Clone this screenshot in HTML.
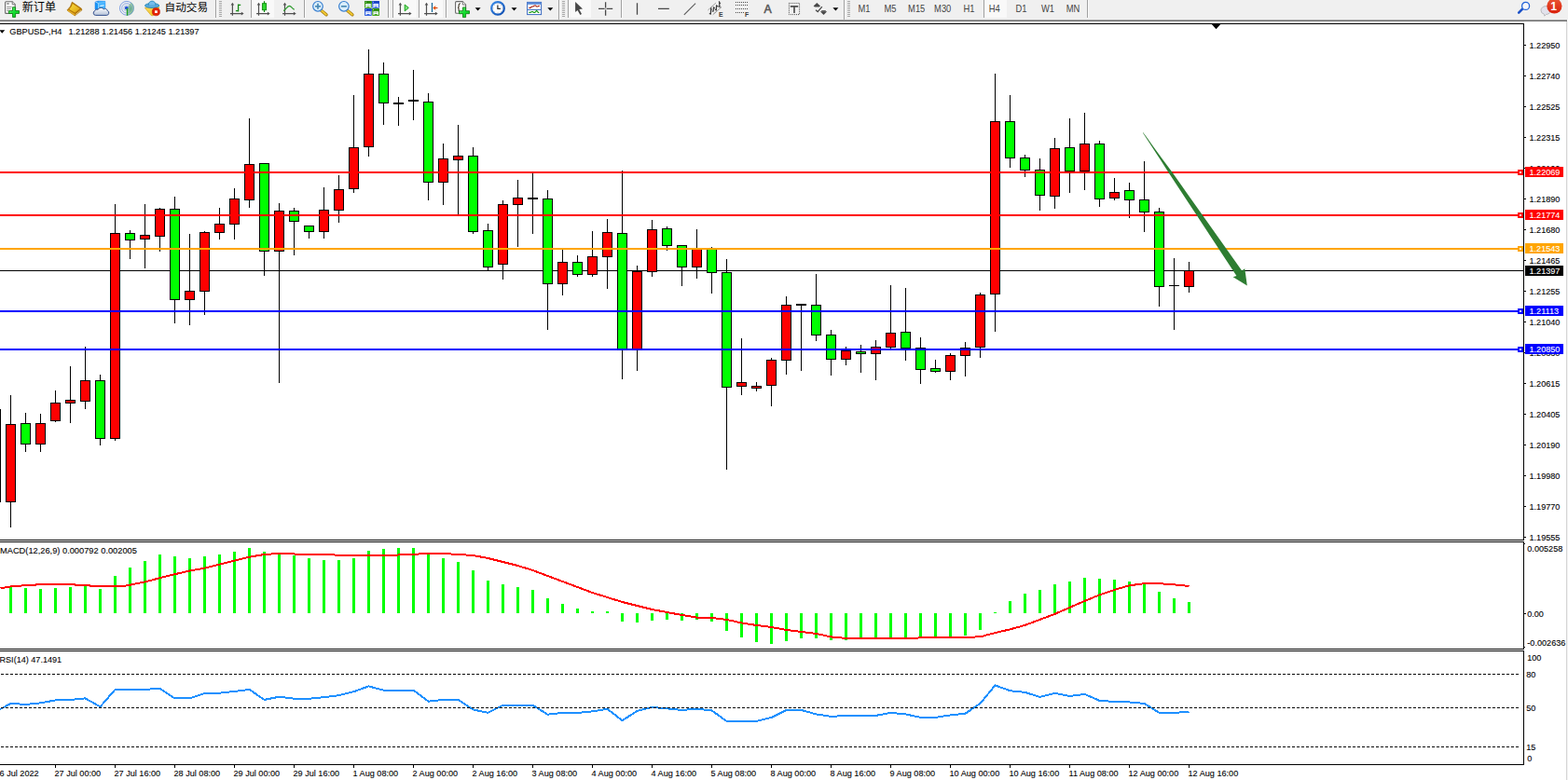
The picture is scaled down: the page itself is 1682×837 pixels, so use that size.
<!DOCTYPE html><html><head><meta charset="utf-8"><title>GBPUSD-,H4</title>
<style>html,body{margin:0;padding:0;background:#fff;overflow:hidden}body{width:1682px;height:837px;position:relative;font-family:"Liberation Sans",sans-serif}svg{position:absolute;left:0;top:0;display:block}text{font-family:"Liberation Sans",sans-serif}.ax{font-size:9.7px;fill:#000;stroke:#000;stroke-width:.1px}.tb{font-size:10.4px;fill:#444}.w{fill:#fff;stroke:#fff}.cjk{font-family:"Liberation Sans","Noto Sans CJK SC",sans-serif;fill:#000}</style></head><body>
<svg width="1682" height="837" viewBox="0 0 1682 837">
<rect x="0" y="0" width="1682" height="837" fill="#fff"/>
<g shape-rendering="crispEdges">
<rect x="0" y="0" width="1682" height="21" fill="#f0f0f0"/>
<rect x="0" y="21" width="1681" height="1" fill="#a6a6a6"/>
<rect x="0" y="22" width="1681" height="1" fill="#6c6c6c"/>
<rect x="0" y="23" width="1682" height="2" fill="#fff"/>
<rect x="1680" y="23" width="1" height="814" fill="#d4d4d4"/>
<rect x="1681" y="23" width="1" height="814" fill="#f4f4f4"/>
<rect x="0" y="25" width="1635" height="1" fill="#000"/>
<rect x="1634" y="25" width="1" height="796" fill="#000"/>
<rect x="0" y="579" width="1635" height="1" fill="#000"/>
<rect x="0" y="581" width="1635" height="1" fill="#000"/>
<rect x="0" y="696" width="1635" height="1" fill="#000"/>
<rect x="0" y="698" width="1635" height="1" fill="#000"/>
<rect x="0" y="820" width="1635" height="1" fill="#000"/>
<rect x="1634" y="580" width="1" height="1" fill="#fff"/><rect x="1634" y="697" width="1" height="1" fill="#fff"/>
</g>
<g shape-rendering="crispEdges">
<rect x="0" y="290" width="1634" height="1" fill="#000"/>
<rect x="0" y="439" width="1" height="100" fill="#000"/>
<rect x="11" y="424" width="1" height="142" fill="#000"/>
<rect x="6" y="455" width="11" height="84" fill="#000"/>
<rect x="7" y="456" width="9" height="82" fill="#ff0000"/>
<rect x="27" y="443" width="1" height="42" fill="#000"/>
<rect x="22" y="454" width="11" height="23" fill="#000"/>
<rect x="23" y="455" width="9" height="21" fill="#00ff00"/>
<rect x="43" y="444" width="1" height="41" fill="#000"/>
<rect x="38" y="454" width="11" height="23" fill="#000"/>
<rect x="39" y="455" width="9" height="21" fill="#ff0000"/>
<rect x="59" y="419" width="1" height="34" fill="#000"/>
<rect x="54" y="432" width="11" height="20" fill="#000"/>
<rect x="55" y="433" width="9" height="18" fill="#ff0000"/>
<rect x="75" y="393" width="1" height="61" fill="#000"/>
<rect x="70" y="429" width="11" height="4" fill="#000"/>
<rect x="71" y="430" width="9" height="2" fill="#ff0000"/>
<rect x="91" y="372" width="1" height="67" fill="#000"/>
<rect x="86" y="408" width="11" height="23" fill="#000"/>
<rect x="87" y="409" width="9" height="21" fill="#ff0000"/>
<rect x="107" y="402" width="1" height="76" fill="#000"/>
<rect x="102" y="408" width="11" height="63" fill="#000"/>
<rect x="103" y="409" width="9" height="61" fill="#00ff00"/>
<rect x="123" y="219" width="1" height="254" fill="#000"/>
<rect x="118" y="250" width="11" height="221" fill="#000"/>
<rect x="119" y="251" width="9" height="219" fill="#ff0000"/>
<rect x="139" y="247" width="1" height="31" fill="#000"/>
<rect x="134" y="250" width="11" height="8" fill="#000"/>
<rect x="135" y="251" width="9" height="6" fill="#00ff00"/>
<rect x="155" y="219" width="1" height="69" fill="#000"/>
<rect x="150" y="252" width="11" height="5" fill="#000"/>
<rect x="151" y="253" width="9" height="3" fill="#ff0000"/>
<rect x="171" y="223" width="1" height="47" fill="#000"/>
<rect x="166" y="224" width="11" height="30" fill="#000"/>
<rect x="167" y="225" width="9" height="28" fill="#ff0000"/>
<rect x="187" y="211" width="1" height="136" fill="#000"/>
<rect x="182" y="224" width="11" height="98" fill="#000"/>
<rect x="183" y="225" width="9" height="96" fill="#00ff00"/>
<rect x="203" y="251" width="1" height="98" fill="#000"/>
<rect x="198" y="312" width="11" height="10" fill="#000"/>
<rect x="199" y="313" width="9" height="8" fill="#ff0000"/>
<rect x="219" y="248" width="1" height="90" fill="#000"/>
<rect x="214" y="249" width="11" height="64" fill="#000"/>
<rect x="215" y="250" width="9" height="62" fill="#ff0000"/>
<rect x="235" y="223" width="1" height="34" fill="#000"/>
<rect x="230" y="240" width="11" height="10" fill="#000"/>
<rect x="231" y="241" width="9" height="8" fill="#ff0000"/>
<rect x="251" y="202" width="1" height="55" fill="#000"/>
<rect x="246" y="213" width="11" height="28" fill="#000"/>
<rect x="247" y="214" width="9" height="26" fill="#ff0000"/>
<rect x="267" y="127" width="1" height="96" fill="#000"/>
<rect x="262" y="176" width="11" height="39" fill="#000"/>
<rect x="263" y="177" width="9" height="37" fill="#ff0000"/>
<rect x="283" y="175" width="1" height="121" fill="#000"/>
<rect x="278" y="175" width="11" height="95" fill="#000"/>
<rect x="279" y="176" width="9" height="93" fill="#00ff00"/>
<rect x="299" y="218" width="1" height="193" fill="#000"/>
<rect x="294" y="226" width="11" height="44" fill="#000"/>
<rect x="295" y="227" width="9" height="42" fill="#ff0000"/>
<rect x="315" y="223" width="1" height="51" fill="#000"/>
<rect x="310" y="226" width="11" height="12" fill="#000"/>
<rect x="311" y="227" width="9" height="10" fill="#00ff00"/>
<rect x="331" y="242" width="1" height="14" fill="#000"/>
<rect x="326" y="242" width="11" height="7" fill="#000"/>
<rect x="327" y="243" width="9" height="5" fill="#00ff00"/>
<rect x="347" y="201" width="1" height="55" fill="#000"/>
<rect x="342" y="225" width="11" height="24" fill="#000"/>
<rect x="343" y="226" width="9" height="22" fill="#ff0000"/>
<rect x="363" y="188" width="1" height="51" fill="#000"/>
<rect x="358" y="203" width="11" height="23" fill="#000"/>
<rect x="359" y="204" width="9" height="21" fill="#ff0000"/>
<rect x="379" y="102" width="1" height="105" fill="#000"/>
<rect x="374" y="158" width="11" height="45" fill="#000"/>
<rect x="375" y="159" width="9" height="43" fill="#ff0000"/>
<rect x="395" y="53" width="1" height="115" fill="#000"/>
<rect x="390" y="79" width="11" height="79" fill="#000"/>
<rect x="391" y="80" width="9" height="77" fill="#ff0000"/>
<rect x="411" y="67" width="1" height="67" fill="#000"/>
<rect x="406" y="79" width="11" height="32" fill="#000"/>
<rect x="407" y="80" width="9" height="30" fill="#00ff00"/>
<rect x="427" y="104" width="1" height="31" fill="#000"/>
<rect x="422" y="110" width="11" height="2" fill="#000"/>
<rect x="443" y="75" width="1" height="54" fill="#000"/>
<rect x="438" y="107" width="11" height="2" fill="#000"/>
<rect x="459" y="100" width="1" height="115" fill="#000"/>
<rect x="454" y="109" width="11" height="87" fill="#000"/>
<rect x="455" y="110" width="9" height="85" fill="#00ff00"/>
<rect x="475" y="154" width="1" height="66" fill="#000"/>
<rect x="470" y="170" width="11" height="26" fill="#000"/>
<rect x="471" y="171" width="9" height="24" fill="#ff0000"/>
<rect x="491" y="134" width="1" height="96" fill="#000"/>
<rect x="486" y="167" width="11" height="5" fill="#000"/>
<rect x="487" y="168" width="9" height="3" fill="#ff0000"/>
<rect x="507" y="158" width="1" height="93" fill="#000"/>
<rect x="502" y="167" width="11" height="82" fill="#000"/>
<rect x="503" y="168" width="9" height="80" fill="#00ff00"/>
<rect x="523" y="240" width="1" height="50" fill="#000"/>
<rect x="518" y="247" width="11" height="40" fill="#000"/>
<rect x="519" y="248" width="9" height="38" fill="#00ff00"/>
<rect x="539" y="215" width="1" height="85" fill="#000"/>
<rect x="534" y="219" width="11" height="65" fill="#000"/>
<rect x="535" y="220" width="9" height="63" fill="#ff0000"/>
<rect x="555" y="193" width="1" height="72" fill="#000"/>
<rect x="550" y="212" width="11" height="8" fill="#000"/>
<rect x="551" y="213" width="9" height="6" fill="#ff0000"/>
<rect x="571" y="186" width="1" height="65" fill="#000"/>
<rect x="566" y="212" width="11" height="2" fill="#000"/>
<rect x="587" y="204" width="1" height="150" fill="#000"/>
<rect x="582" y="213" width="11" height="92" fill="#000"/>
<rect x="583" y="214" width="9" height="90" fill="#00ff00"/>
<rect x="603" y="268" width="1" height="49" fill="#000"/>
<rect x="598" y="281" width="11" height="24" fill="#000"/>
<rect x="599" y="282" width="9" height="22" fill="#ff0000"/>
<rect x="619" y="274" width="1" height="23" fill="#000"/>
<rect x="614" y="281" width="11" height="14" fill="#000"/>
<rect x="615" y="282" width="9" height="12" fill="#00ff00"/>
<rect x="635" y="248" width="1" height="49" fill="#000"/>
<rect x="630" y="275" width="11" height="20" fill="#000"/>
<rect x="631" y="276" width="9" height="18" fill="#ff0000"/>
<rect x="651" y="235" width="1" height="75" fill="#000"/>
<rect x="646" y="249" width="11" height="27" fill="#000"/>
<rect x="647" y="250" width="9" height="25" fill="#ff0000"/>
<rect x="667" y="183" width="1" height="224" fill="#000"/>
<rect x="662" y="250" width="11" height="125" fill="#000"/>
<rect x="663" y="251" width="9" height="123" fill="#00ff00"/>
<rect x="683" y="285" width="1" height="113" fill="#000"/>
<rect x="678" y="291" width="11" height="84" fill="#000"/>
<rect x="679" y="292" width="9" height="82" fill="#ff0000"/>
<rect x="699" y="236" width="1" height="61" fill="#000"/>
<rect x="694" y="246" width="11" height="46" fill="#000"/>
<rect x="695" y="247" width="9" height="44" fill="#ff0000"/>
<rect x="715" y="243" width="1" height="26" fill="#000"/>
<rect x="710" y="245" width="11" height="19" fill="#000"/>
<rect x="711" y="246" width="9" height="17" fill="#00ff00"/>
<rect x="731" y="264" width="1" height="43" fill="#000"/>
<rect x="726" y="263" width="11" height="24" fill="#000"/>
<rect x="727" y="264" width="9" height="22" fill="#00ff00"/>
<rect x="747" y="246" width="1" height="53" fill="#000"/>
<rect x="742" y="267" width="11" height="20" fill="#000"/>
<rect x="743" y="268" width="9" height="18" fill="#ff0000"/>
<rect x="763" y="265" width="1" height="50" fill="#000"/>
<rect x="758" y="267" width="11" height="26" fill="#000"/>
<rect x="759" y="268" width="9" height="24" fill="#00ff00"/>
<rect x="779" y="278" width="1" height="226" fill="#000"/>
<rect x="774" y="292" width="11" height="124" fill="#000"/>
<rect x="775" y="293" width="9" height="122" fill="#00ff00"/>
<rect x="795" y="363" width="1" height="61" fill="#000"/>
<rect x="790" y="410" width="11" height="5" fill="#000"/>
<rect x="791" y="411" width="9" height="3" fill="#ff0000"/>
<rect x="811" y="410" width="1" height="10" fill="#000"/>
<rect x="806" y="414" width="11" height="3" fill="#000"/>
<rect x="807" y="415" width="9" height="1" fill="#ff0000"/>
<rect x="827" y="384" width="1" height="52" fill="#000"/>
<rect x="822" y="386" width="11" height="28" fill="#000"/>
<rect x="823" y="387" width="9" height="26" fill="#ff0000"/>
<rect x="843" y="318" width="1" height="84" fill="#000"/>
<rect x="838" y="327" width="11" height="60" fill="#000"/>
<rect x="839" y="328" width="9" height="58" fill="#ff0000"/>
<rect x="859" y="326" width="1" height="72" fill="#000"/>
<rect x="854" y="326" width="11" height="2" fill="#000"/>
<rect x="875" y="294" width="1" height="72" fill="#000"/>
<rect x="870" y="327" width="11" height="33" fill="#000"/>
<rect x="871" y="328" width="9" height="31" fill="#00ff00"/>
<rect x="891" y="354" width="1" height="49" fill="#000"/>
<rect x="886" y="359" width="11" height="27" fill="#000"/>
<rect x="887" y="360" width="9" height="25" fill="#00ff00"/>
<rect x="907" y="372" width="1" height="20" fill="#000"/>
<rect x="902" y="376" width="11" height="10" fill="#000"/>
<rect x="903" y="377" width="9" height="8" fill="#ff0000"/>
<rect x="923" y="370" width="1" height="30" fill="#000"/>
<rect x="918" y="377" width="11" height="3" fill="#000"/>
<rect x="919" y="378" width="9" height="1" fill="#00ff00"/>
<rect x="939" y="365" width="1" height="43" fill="#000"/>
<rect x="934" y="372" width="11" height="8" fill="#000"/>
<rect x="935" y="373" width="9" height="6" fill="#ff0000"/>
<rect x="955" y="306" width="1" height="68" fill="#000"/>
<rect x="950" y="357" width="11" height="16" fill="#000"/>
<rect x="951" y="358" width="9" height="14" fill="#ff0000"/>
<rect x="971" y="309" width="1" height="78" fill="#000"/>
<rect x="966" y="356" width="11" height="18" fill="#000"/>
<rect x="967" y="357" width="9" height="16" fill="#00ff00"/>
<rect x="987" y="362" width="1" height="50" fill="#000"/>
<rect x="982" y="373" width="11" height="24" fill="#000"/>
<rect x="983" y="374" width="9" height="22" fill="#00ff00"/>
<rect x="1003" y="386" width="1" height="14" fill="#000"/>
<rect x="998" y="395" width="11" height="4" fill="#000"/>
<rect x="999" y="396" width="9" height="2" fill="#00ff00"/>
<rect x="1019" y="379" width="1" height="29" fill="#000"/>
<rect x="1014" y="381" width="11" height="18" fill="#000"/>
<rect x="1015" y="382" width="9" height="16" fill="#ff0000"/>
<rect x="1035" y="367" width="1" height="37" fill="#000"/>
<rect x="1030" y="373" width="11" height="9" fill="#000"/>
<rect x="1031" y="374" width="9" height="7" fill="#ff0000"/>
<rect x="1051" y="314" width="1" height="70" fill="#000"/>
<rect x="1046" y="316" width="11" height="57" fill="#000"/>
<rect x="1047" y="317" width="9" height="55" fill="#ff0000"/>
<rect x="1067" y="79" width="1" height="277" fill="#000"/>
<rect x="1062" y="130" width="11" height="186" fill="#000"/>
<rect x="1063" y="131" width="9" height="184" fill="#ff0000"/>
<rect x="1083" y="102" width="1" height="78" fill="#000"/>
<rect x="1078" y="130" width="11" height="40" fill="#000"/>
<rect x="1079" y="131" width="9" height="38" fill="#00ff00"/>
<rect x="1099" y="166" width="1" height="24" fill="#000"/>
<rect x="1094" y="169" width="11" height="14" fill="#000"/>
<rect x="1095" y="170" width="9" height="12" fill="#00ff00"/>
<rect x="1115" y="170" width="1" height="56" fill="#000"/>
<rect x="1110" y="182" width="11" height="28" fill="#000"/>
<rect x="1111" y="183" width="9" height="26" fill="#00ff00"/>
<rect x="1131" y="148" width="1" height="76" fill="#000"/>
<rect x="1126" y="159" width="11" height="52" fill="#000"/>
<rect x="1127" y="160" width="9" height="50" fill="#ff0000"/>
<rect x="1147" y="127" width="1" height="80" fill="#000"/>
<rect x="1142" y="158" width="11" height="26" fill="#000"/>
<rect x="1143" y="159" width="9" height="24" fill="#00ff00"/>
<rect x="1163" y="121" width="1" height="83" fill="#000"/>
<rect x="1158" y="154" width="11" height="30" fill="#000"/>
<rect x="1159" y="155" width="9" height="28" fill="#ff0000"/>
<rect x="1179" y="151" width="1" height="71" fill="#000"/>
<rect x="1174" y="154" width="11" height="60" fill="#000"/>
<rect x="1175" y="155" width="9" height="58" fill="#00ff00"/>
<rect x="1195" y="191" width="1" height="24" fill="#000"/>
<rect x="1190" y="206" width="11" height="7" fill="#000"/>
<rect x="1191" y="207" width="9" height="5" fill="#ff0000"/>
<rect x="1211" y="196" width="1" height="38" fill="#000"/>
<rect x="1206" y="204" width="11" height="11" fill="#000"/>
<rect x="1207" y="205" width="9" height="9" fill="#00ff00"/>
<rect x="1227" y="173" width="1" height="76" fill="#000"/>
<rect x="1222" y="214" width="11" height="14" fill="#000"/>
<rect x="1223" y="215" width="9" height="12" fill="#00ff00"/>
<rect x="1243" y="223" width="1" height="106" fill="#000"/>
<rect x="1238" y="227" width="11" height="81" fill="#000"/>
<rect x="1239" y="228" width="9" height="79" fill="#00ff00"/>
<rect x="1259" y="277" width="1" height="77" fill="#000"/>
<rect x="1254" y="306" width="11" height="1" fill="#000"/>
<rect x="1275" y="281" width="1" height="33" fill="#000"/>
<rect x="1270" y="290" width="11" height="18" fill="#000"/>
<rect x="1271" y="291" width="9" height="16" fill="#ff0000"/>
</g>
<g shape-rendering="crispEdges">
<rect x="0" y="184" width="1629" height="2" fill="#ff0000"/>
<rect x="0" y="230" width="1629" height="2" fill="#ff0000"/>
<rect x="0" y="266" width="1629" height="2" fill="#ffa500"/>
<rect x="0" y="333" width="1629" height="2" fill="#0000ff"/>
<rect x="0" y="374" width="1629" height="2" fill="#0000ff"/>
</g>
<polygon points="1226.3,142.2 1229.7,146.7 1238.2,158.7 1246.8,170.6 1257.2,184.6 1289.7,230.6 1332.2,290.4 1335.3,288.2 1337.8,306.6 1322.7,297.3 1326.4,296.0 1283.4,230.6 1253.1,184.6 1244.2,170.6 1236.5,158.7 1228.7,146.7 1225.8,142.2" fill="#2e7d32"/>
<g shape-rendering="crispEdges">
<rect x="1635" y="48" width="2" height="1" fill="#000"/>
<rect x="1635" y="81" width="2" height="1" fill="#000"/>
<rect x="1635" y="114" width="2" height="1" fill="#000"/>
<rect x="1635" y="147" width="2" height="1" fill="#000"/>
<rect x="1635" y="180" width="2" height="1" fill="#000"/>
<rect x="1635" y="213" width="2" height="1" fill="#000"/>
<rect x="1635" y="246" width="2" height="1" fill="#000"/>
<rect x="1635" y="279" width="2" height="1" fill="#000"/>
<rect x="1635" y="312" width="2" height="1" fill="#000"/>
<rect x="1635" y="345" width="2" height="1" fill="#000"/>
<rect x="1635" y="378" width="2" height="1" fill="#000"/>
<rect x="1635" y="411" width="2" height="1" fill="#000"/>
<rect x="1635" y="444" width="2" height="1" fill="#000"/>
<rect x="1635" y="477" width="2" height="1" fill="#000"/>
<rect x="1635" y="510" width="2" height="1" fill="#000"/>
<rect x="1635" y="543" width="2" height="1" fill="#000"/>
<rect x="1635" y="576" width="2" height="1" fill="#000"/>
</g>
<text class="ax" transform="translate(1640.5,52) scale(0.94,1)" text-anchor="start" xml:space="preserve">1.22950</text>
<text class="ax" transform="translate(1640.5,85) scale(0.94,1)" text-anchor="start" xml:space="preserve">1.22740</text>
<text class="ax" transform="translate(1640.5,118) scale(0.94,1)" text-anchor="start" xml:space="preserve">1.22525</text>
<text class="ax" transform="translate(1640.5,151) scale(0.94,1)" text-anchor="start" xml:space="preserve">1.22315</text>
<text class="ax" transform="translate(1640.5,184) scale(0.94,1)" text-anchor="start" xml:space="preserve">1.22100</text>
<text class="ax" transform="translate(1640.5,217) scale(0.94,1)" text-anchor="start" xml:space="preserve">1.21890</text>
<text class="ax" transform="translate(1640.5,250) scale(0.94,1)" text-anchor="start" xml:space="preserve">1.21680</text>
<text class="ax" transform="translate(1640.5,283) scale(0.94,1)" text-anchor="start" xml:space="preserve">1.21465</text>
<text class="ax" transform="translate(1640.5,316) scale(0.94,1)" text-anchor="start" xml:space="preserve">1.21255</text>
<text class="ax" transform="translate(1640.5,349) scale(0.94,1)" text-anchor="start" xml:space="preserve">1.21040</text>
<text class="ax" transform="translate(1640.5,382) scale(0.94,1)" text-anchor="start" xml:space="preserve">1.20830</text>
<text class="ax" transform="translate(1640.5,415) scale(0.94,1)" text-anchor="start" xml:space="preserve">1.20615</text>
<text class="ax" transform="translate(1640.5,448) scale(0.94,1)" text-anchor="start" xml:space="preserve">1.20405</text>
<text class="ax" transform="translate(1640.5,481) scale(0.94,1)" text-anchor="start" xml:space="preserve">1.20190</text>
<text class="ax" transform="translate(1640.5,514) scale(0.94,1)" text-anchor="start" xml:space="preserve">1.19980</text>
<text class="ax" transform="translate(1640.5,547) scale(0.94,1)" text-anchor="start" xml:space="preserve">1.19770</text>
<text class="ax" transform="translate(1640.5,580) scale(0.94,1)" text-anchor="start" xml:space="preserve">1.19555</text>
<g shape-rendering="crispEdges">
<rect x="1628" y="182" width="6" height="6" fill="#ff0000"/><rect x="1630" y="184" width="2" height="2" fill="#fff"/>
<rect x="1636" y="179" width="41" height="11" fill="#ff0000"/>
<rect x="1628" y="228" width="6" height="6" fill="#ff0000"/><rect x="1630" y="230" width="2" height="2" fill="#fff"/>
<rect x="1636" y="225" width="41" height="11" fill="#ff0000"/>
<rect x="1628" y="264" width="6" height="6" fill="#ffa500"/><rect x="1630" y="266" width="2" height="2" fill="#fff"/>
<rect x="1636" y="261" width="41" height="11" fill="#ffa500"/>
<rect x="1628" y="331" width="6" height="6" fill="#0000ff"/><rect x="1630" y="333" width="2" height="2" fill="#fff"/>
<rect x="1636" y="328" width="41" height="11" fill="#0000ff"/>
<rect x="1628" y="372" width="6" height="6" fill="#0000ff"/><rect x="1630" y="374" width="2" height="2" fill="#fff"/>
<rect x="1636" y="369" width="41" height="11" fill="#0000ff"/>
<rect x="1636" y="285" width="41" height="11" fill="#000"/>
</g>
<text class="ax w" transform="translate(1640.5,188) scale(0.94,1)" text-anchor="start" xml:space="preserve">1.22069</text>
<text class="ax w" transform="translate(1640.5,234) scale(0.94,1)" text-anchor="start" xml:space="preserve">1.21774</text>
<text class="ax w" transform="translate(1640.5,270) scale(0.94,1)" text-anchor="start" xml:space="preserve">1.21543</text>
<text class="ax w" transform="translate(1640.5,337) scale(0.94,1)" text-anchor="start" xml:space="preserve">1.21113</text>
<text class="ax w" transform="translate(1640.5,378) scale(0.94,1)" text-anchor="start" xml:space="preserve">1.20850</text>
<text class="ax w" transform="translate(1640.5,293.8) scale(0.94,1)" text-anchor="start" xml:space="preserve">1.21397</text>
<polygon points="-0.8,32.2 5.3,32.2 2.25,35.7" fill="#000"/>
<text class="ax" transform="translate(10.3,36.7) scale(0.9462,1)" text-anchor="start" xml:space="preserve">GBPUSD-,H4</text>
<text class="ax" transform="translate(73.4,36.7) scale(0.9446,1)" text-anchor="start" xml:space="preserve">1.21288 1.21456 1.21245 1.21397</text>
<polygon points="1299.6,25.8 1309.5,25.8 1304.55,31.2" fill="#000"/>
<g shape-rendering="crispEdges">
<rect x="10" y="630" width="3" height="28" fill="#00ff00"/>
<rect x="26" y="631" width="3" height="27" fill="#00ff00"/>
<rect x="42" y="632" width="3" height="26" fill="#00ff00"/>
<rect x="58" y="631" width="3" height="27" fill="#00ff00"/>
<rect x="74" y="630" width="3" height="28" fill="#00ff00"/>
<rect x="90" y="629" width="3" height="29" fill="#00ff00"/>
<rect x="106" y="632" width="3" height="26" fill="#00ff00"/>
<rect x="122" y="618" width="3" height="40" fill="#00ff00"/>
<rect x="138" y="609" width="3" height="49" fill="#00ff00"/>
<rect x="154" y="602" width="3" height="56" fill="#00ff00"/>
<rect x="170" y="595" width="3" height="63" fill="#00ff00"/>
<rect x="186" y="597" width="3" height="61" fill="#00ff00"/>
<rect x="202" y="599" width="3" height="59" fill="#00ff00"/>
<rect x="218" y="597" width="3" height="61" fill="#00ff00"/>
<rect x="234" y="595" width="3" height="63" fill="#00ff00"/>
<rect x="250" y="592" width="3" height="66" fill="#00ff00"/>
<rect x="266" y="588" width="3" height="70" fill="#00ff00"/>
<rect x="282" y="592" width="3" height="66" fill="#00ff00"/>
<rect x="298" y="593" width="3" height="65" fill="#00ff00"/>
<rect x="314" y="596" width="3" height="62" fill="#00ff00"/>
<rect x="330" y="599" width="3" height="59" fill="#00ff00"/>
<rect x="346" y="601" width="3" height="57" fill="#00ff00"/>
<rect x="362" y="601" width="3" height="57" fill="#00ff00"/>
<rect x="378" y="599" width="3" height="59" fill="#00ff00"/>
<rect x="394" y="591" width="3" height="67" fill="#00ff00"/>
<rect x="410" y="589" width="3" height="69" fill="#00ff00"/>
<rect x="426" y="588" width="3" height="70" fill="#00ff00"/>
<rect x="442" y="588" width="3" height="70" fill="#00ff00"/>
<rect x="458" y="595" width="3" height="63" fill="#00ff00"/>
<rect x="474" y="599" width="3" height="59" fill="#00ff00"/>
<rect x="490" y="603" width="3" height="55" fill="#00ff00"/>
<rect x="506" y="612" width="3" height="46" fill="#00ff00"/>
<rect x="522" y="623" width="3" height="35" fill="#00ff00"/>
<rect x="538" y="627" width="3" height="31" fill="#00ff00"/>
<rect x="554" y="630" width="3" height="28" fill="#00ff00"/>
<rect x="570" y="633" width="3" height="25" fill="#00ff00"/>
<rect x="586" y="642" width="3" height="16" fill="#00ff00"/>
<rect x="602" y="648" width="3" height="10" fill="#00ff00"/>
<rect x="618" y="653" width="3" height="5" fill="#00ff00"/>
<rect x="634" y="656" width="3" height="2" fill="#00ff00"/>
<rect x="650" y="656" width="3" height="2" fill="#00ff00"/>
<rect x="666" y="658" width="3" height="9" fill="#00ff00"/>
<rect x="682" y="658" width="3" height="10" fill="#00ff00"/>
<rect x="698" y="658" width="3" height="8" fill="#00ff00"/>
<rect x="714" y="658" width="3" height="7" fill="#00ff00"/>
<rect x="730" y="658" width="3" height="8" fill="#00ff00"/>
<rect x="746" y="658" width="3" height="7" fill="#00ff00"/>
<rect x="762" y="658" width="3" height="9" fill="#00ff00"/>
<rect x="778" y="658" width="3" height="19" fill="#00ff00"/>
<rect x="794" y="658" width="3" height="26" fill="#00ff00"/>
<rect x="810" y="658" width="3" height="31" fill="#00ff00"/>
<rect x="826" y="658" width="3" height="33" fill="#00ff00"/>
<rect x="842" y="658" width="3" height="30" fill="#00ff00"/>
<rect x="858" y="658" width="3" height="27" fill="#00ff00"/>
<rect x="874" y="658" width="3" height="27" fill="#00ff00"/>
<rect x="890" y="658" width="3" height="29" fill="#00ff00"/>
<rect x="906" y="658" width="3" height="29" fill="#00ff00"/>
<rect x="922" y="658" width="3" height="27" fill="#00ff00"/>
<rect x="938" y="658" width="3" height="27" fill="#00ff00"/>
<rect x="954" y="658" width="3" height="26" fill="#00ff00"/>
<rect x="970" y="658" width="3" height="26" fill="#00ff00"/>
<rect x="986" y="658" width="3" height="26" fill="#00ff00"/>
<rect x="1002" y="658" width="3" height="26" fill="#00ff00"/>
<rect x="1018" y="658" width="3" height="26" fill="#00ff00"/>
<rect x="1034" y="658" width="3" height="24" fill="#00ff00"/>
<rect x="1050" y="658" width="3" height="18" fill="#00ff00"/>
<rect x="1066" y="657" width="3" height="1" fill="#00ff00"/>
<rect x="1082" y="645" width="3" height="13" fill="#00ff00"/>
<rect x="1098" y="637" width="3" height="21" fill="#00ff00"/>
<rect x="1114" y="633" width="3" height="25" fill="#00ff00"/>
<rect x="1130" y="627" width="3" height="31" fill="#00ff00"/>
<rect x="1146" y="624" width="3" height="34" fill="#00ff00"/>
<rect x="1162" y="620" width="3" height="38" fill="#00ff00"/>
<rect x="1178" y="621" width="3" height="37" fill="#00ff00"/>
<rect x="1194" y="622" width="3" height="36" fill="#00ff00"/>
<rect x="1210" y="624" width="3" height="34" fill="#00ff00"/>
<rect x="1226" y="627" width="3" height="31" fill="#00ff00"/>
<rect x="1242" y="635" width="3" height="23" fill="#00ff00"/>
<rect x="1258" y="642" width="3" height="16" fill="#00ff00"/>
<rect x="1274" y="646" width="3" height="12" fill="#00ff00"/>
</g>
<polyline points="0.5,631.4 11.5,629.4 27.5,628.2 43.5,627.2 75.5,627.2 91.5,628.2 107.5,629.2 130.5,629.2 139.5,627.7 155.5,624.4 171.5,620.2 187.5,616.2 203.5,612.5 219.5,609.7 235.5,605.7 251.5,601.7 267.5,597.7 283.5,595.0 299.5,594.0 315.5,594.5 331.5,595.0 347.5,595.0 363.5,595.7 379.5,596.0 395.5,596.0 411.5,596.0 427.5,595.5 460.5,594.0 475.5,594.0 491.5,595.0 507.5,596.0 523.5,599.0 539.5,603.0 555.5,607.0 571.5,612.0 587.5,618.0 603.5,624.0 619.5,630.0 635.5,636.0 651.5,641.0 667.5,646.0 683.5,650.0 699.5,654.0 715.5,657.0 731.5,660.0 747.5,662.6 763.5,662.9 779.5,664.9 795.5,668.4 811.5,671.0 827.5,673.0 843.5,675.9 859.5,677.9 875.5,679.9 891.5,683.4 907.5,685.0 971.5,685.0 987.5,684.4 1019.5,684.0 1051.5,683.4 1067.5,679.0 1083.5,675.4 1099.5,670.9 1115.5,664.9 1131.5,658.9 1147.5,651.9 1163.5,644.9 1179.5,638.4 1195.5,632.9 1211.5,628.3 1227.5,626.2 1243.5,626.2 1259.5,627.4 1275.5,628.9" fill="none" stroke="#ff0000" stroke-width="2" stroke-linejoin="round" shape-rendering="crispEdges"/>
<text class="ax" transform="translate(0,594.2) scale(0.9565511061830293,1)" text-anchor="start" xml:space="preserve">MACD(12,26,9) 0.000792 0.002005</text>
<g shape-rendering="crispEdges"><rect x="1635" y="583" width="1" height="1" fill="#000"/><rect x="1635" y="658" width="2" height="1" fill="#000"/><rect x="1635" y="694" width="1" height="1" fill="#000"/></g>
<text class="ax" transform="translate(1638.3,592) scale(0.94,1)" text-anchor="start" xml:space="preserve">0.005258</text>
<text class="ax" transform="translate(1638.2,662) scale(0.94,1)" text-anchor="start" xml:space="preserve">0.00</text>
<text class="ax" transform="translate(1638.3,693.4) scale(0.94,1)" text-anchor="start" xml:space="preserve">-0.002636</text>
<polyline points="0.0,761.2 11.5,754.9 27.5,755.9 43.5,754.4 59.5,751.4 75.5,750.9 91.5,749.4 107.5,758.4 123.5,739.9 139.5,739.9 155.5,739.9 171.5,738.7 187.5,749.4 203.5,749.4 219.5,743.9 235.5,743.7 251.5,741.9 267.5,739.9 283.5,750.9 299.5,747.7 315.5,749.7 331.5,749.7 347.5,748.2 363.5,746.2 379.5,742.2 395.5,736.4 411.5,740.7 427.5,740.7 443.5,740.7 459.5,752.7 475.5,750.9 491.5,750.9 507.5,761.4 523.5,764.9 539.5,756.7 555.5,756.7 571.5,756.7 587.5,766.7 603.5,764.9 619.5,764.9 635.5,763.4 651.5,760.7 667.5,773.2 683.5,762.9 699.5,758.9 715.5,760.4 731.5,761.9 747.5,760.7 763.5,762.4 779.5,773.9 795.5,773.9 811.5,773.9 827.5,769.9 843.5,761.9 859.5,761.9 875.5,766.4 891.5,768.9 907.5,767.9 923.5,767.9 939.5,767.9 955.5,764.9 971.5,766.4 987.5,769.9 1003.5,769.9 1019.5,767.4 1035.5,765.7 1051.5,754.9 1067.5,735.4 1083.5,741.2 1099.5,742.9 1115.5,747.9 1131.5,743.9 1147.5,746.9 1163.5,744.9 1179.5,751.9 1195.5,752.9 1211.5,753.5 1227.5,754.9 1243.5,764.9 1259.5,764.9 1275.5,763.7" fill="none" stroke="#1e90ff" stroke-width="2" stroke-linejoin="round" shape-rendering="crispEdges"/>
<g shape-rendering="crispEdges" stroke="#000" stroke-width="1" stroke-dasharray="3,2">
<line x1="1" y1="723.5" x2="1631" y2="723.5"/>
<line x1="1" y1="759.5" x2="1631" y2="759.5"/>
<line x1="1" y1="801.5" x2="1631" y2="801.5"/>
</g>
<text class="ax" transform="translate(-0.5,711.2) scale(0.9372071227741332,1)" text-anchor="start" xml:space="preserve">RSI(14) 47.1491</text>
<text class="ax" transform="translate(1638.2,709.2) scale(0.94,1)" text-anchor="start" xml:space="preserve">100</text>
<text class="ax" transform="translate(1637.3,727.2) scale(0.94,1)" text-anchor="start" xml:space="preserve">80</text>
<text class="ax" transform="translate(1637.3,763.3000000000001) scale(0.94,1)" text-anchor="start" xml:space="preserve">50</text>
<text class="ax" transform="translate(1637.3,805.3000000000001) scale(0.94,1)" text-anchor="start" xml:space="preserve">15</text>
<text class="ax" transform="translate(1638.2,817.1) scale(0.94,1)" text-anchor="start" xml:space="preserve">0</text>
<g shape-rendering="crispEdges">
<rect x="59" y="821" width="1" height="3" fill="#000"/>
<rect x="123" y="821" width="1" height="3" fill="#000"/>
<rect x="187" y="821" width="1" height="3" fill="#000"/>
<rect x="251" y="821" width="1" height="3" fill="#000"/>
<rect x="315" y="821" width="1" height="3" fill="#000"/>
<rect x="379" y="821" width="1" height="3" fill="#000"/>
<rect x="443" y="821" width="1" height="3" fill="#000"/>
<rect x="507" y="821" width="1" height="3" fill="#000"/>
<rect x="571" y="821" width="1" height="3" fill="#000"/>
<rect x="635" y="821" width="1" height="3" fill="#000"/>
<rect x="699" y="821" width="1" height="3" fill="#000"/>
<rect x="763" y="821" width="1" height="3" fill="#000"/>
<rect x="827" y="821" width="1" height="3" fill="#000"/>
<rect x="891" y="821" width="1" height="3" fill="#000"/>
<rect x="955" y="821" width="1" height="3" fill="#000"/>
<rect x="1019" y="821" width="1" height="3" fill="#000"/>
<rect x="1083" y="821" width="1" height="3" fill="#000"/>
<rect x="1147" y="821" width="1" height="3" fill="#000"/>
<rect x="1211" y="821" width="1" height="3" fill="#000"/>
<rect x="1275" y="821" width="1" height="3" fill="#000"/>
</g>
<text class="ax" transform="translate(-5.5,833.4) scale(0.94,1)" text-anchor="start" xml:space="preserve">26 Jul 2022</text>
<text class="ax" transform="translate(58.5,833.4) scale(0.94,1)" text-anchor="start" xml:space="preserve">27 Jul 00:00</text>
<text class="ax" transform="translate(122.5,833.4) scale(0.94,1)" text-anchor="start" xml:space="preserve">27 Jul 16:00</text>
<text class="ax" transform="translate(186.5,833.4) scale(0.94,1)" text-anchor="start" xml:space="preserve">28 Jul 08:00</text>
<text class="ax" transform="translate(250.5,833.4) scale(0.94,1)" text-anchor="start" xml:space="preserve">29 Jul 00:00</text>
<text class="ax" transform="translate(314.5,833.4) scale(0.94,1)" text-anchor="start" xml:space="preserve">29 Jul 16:00</text>
<text class="ax" transform="translate(378.5,833.4) scale(0.94,1)" text-anchor="start" xml:space="preserve">1 Aug 08:00</text>
<text class="ax" transform="translate(442.5,833.4) scale(0.94,1)" text-anchor="start" xml:space="preserve">2 Aug 00:00</text>
<text class="ax" transform="translate(506.5,833.4) scale(0.94,1)" text-anchor="start" xml:space="preserve">2 Aug 16:00</text>
<text class="ax" transform="translate(570.5,833.4) scale(0.94,1)" text-anchor="start" xml:space="preserve">3 Aug 08:00</text>
<text class="ax" transform="translate(634.5,833.4) scale(0.94,1)" text-anchor="start" xml:space="preserve">4 Aug 00:00</text>
<text class="ax" transform="translate(698.5,833.4) scale(0.94,1)" text-anchor="start" xml:space="preserve">4 Aug 16:00</text>
<text class="ax" transform="translate(762.5,833.4) scale(0.94,1)" text-anchor="start" xml:space="preserve">5 Aug 08:00</text>
<text class="ax" transform="translate(826.5,833.4) scale(0.94,1)" text-anchor="start" xml:space="preserve">8 Aug 00:00</text>
<text class="ax" transform="translate(890.5,833.4) scale(0.94,1)" text-anchor="start" xml:space="preserve">8 Aug 16:00</text>
<text class="ax" transform="translate(954.5,833.4) scale(0.94,1)" text-anchor="start" xml:space="preserve">9 Aug 08:00</text>
<text class="ax" transform="translate(1018.5,833.4) scale(0.94,1)" text-anchor="start" xml:space="preserve">10 Aug 00:00</text>
<text class="ax" transform="translate(1082.5,833.4) scale(0.94,1)" text-anchor="start" xml:space="preserve">10 Aug 16:00</text>
<text class="ax" transform="translate(1146.5,833.4) scale(0.94,1)" text-anchor="start" xml:space="preserve">11 Aug 08:00</text>
<text class="ax" transform="translate(1210.5,833.4) scale(0.94,1)" text-anchor="start" xml:space="preserve">12 Aug 00:00</text>
<text class="ax" transform="translate(1274.5,833.4) scale(0.94,1)" text-anchor="start" xml:space="preserve">12 Aug 16:00</text>
<g id="toolbar">
<rect x="270" y="0" width="24" height="19" fill="#f9f9f9" shape-rendering="crispEdges"/>
<rect x="422" y="0" width="25" height="19" fill="#f9f9f9" shape-rendering="crispEdges"/>
<rect x="450" y="0" width="25" height="19" fill="#f9f9f9" shape-rendering="crispEdges"/>
<rect x="610" y="0" width="24" height="19" fill="#f9f9f9" shape-rendering="crispEdges"/>
<rect x="1056" y="0" width="24" height="19" fill="#f9f9f9" shape-rendering="crispEdges"/>
<path d="M6.6,1.8h6.6l3,3v8.6a1,1 0 0 1 -1,1h-8.6a1,1 0 0 1 -1,-1v-10.6a1,1 0 0 1 1,-1z" fill="#fdfdfd" stroke="#6a6a6a" stroke-width="1.1"/>
<path d="M13.2,1.8v3h3" fill="#f4f4f4" stroke="#6a6a6a" stroke-width=".9"/>
<rect x="7.2" y="3.2" width="2.6" height="1.5" fill="#8a8a8a"/><path d="M7.2,7.4h5.4M7.2,9.4h4.6M7.2,11.4h2" stroke="#8a8a8a" stroke-width=".9"/>
<defs><linearGradient id="gp" x1="0" y1="0" x2="1" y2="1"><stop offset="0" stop-color="#7cf08c"/><stop offset=".5" stop-color="#12e030"/><stop offset="1" stop-color="#0cc020"/></linearGradient></defs>
<path d="M13.5,7.7h3.1v3.8h3.9v3h-3.9v3.9h-3.1v-3.9h-4v-3h4z" fill="url(#gp)" stroke="#0a7a0a" stroke-width=".8"/>
<text class="cjk" x="23.7" y="12.4" font-size="12.1" text-anchor="start">新订单</text>
<defs><linearGradient id="yb" x1="0" y1="0" x2="1" y2="1"><stop offset="0" stop-color="#fbe040"/><stop offset="1" stop-color="#dca010"/></linearGradient></defs>
<path d="M77.3,2.1L87.4,9.1L87.9,10.9L80.2,16.9L71.9,11L75.3,7z" fill="#b67808" stroke="#a06a06" stroke-width=".5"/>
<path d="M77.9,3.9L85.7,9.3L80.4,13.5L74.3,9.9L76.7,6.9z" fill="url(#yb)"/>
<path d="M72.8,11.2l7.5,4.8" stroke="#e2ae2c" stroke-width="1.5"/>
<path d="M81.3,15.4l5.6,-4.4" stroke="#e8d288" stroke-width=".9"/>
<path d="M102,2l3.6,-.9l7.2,.3v9h-10.8z" fill="#1a96f6" stroke="#1a70e0" stroke-width=".5"/>
<path d="M105.6,1.3l7.2,.2v9h-7.2z" fill="#42b2ff"/>
<path d="M102.2,1.9l3.5,1.7v7" stroke="#d8f0ff" stroke-width=".7" fill="none"/><path d="M105.7,3.6l7,-1" stroke="#7acaff" stroke-width=".6"/>
<path d="M107.4,6.4l4.2,-.6" stroke="#f0faff" stroke-width="1.1"/>
<defs><linearGradient id="cl" x1="0" y1="0" x2="0" y2="1"><stop offset="0" stop-color="#ffffff"/><stop offset="1" stop-color="#b4c2d8"/></linearGradient></defs>
<path d="M102.6,16.4a2.5,2.5 0 0 1 -.6,-4.9a2.4,2.4 0 0 1 3.2,-1.3a3.4,3.4 0 0 1 6,-.4a2.6,2.6 0 0 1 4,1.6a2.6,2.6 0 0 1 -1,5z" fill="url(#cl)" stroke="#36528e" stroke-width="1"/>
<defs><radialGradient id="sg" cx=".5" cy=".5" r=".5"><stop offset="0" stop-color="#30a030" stop-opacity=".9"/><stop offset="1" stop-color="#60b860" stop-opacity=".55"/></radialGradient></defs>
<path d="M136.2,8.8v7.9a7.9,7.9 0 0 0 4.4,-14.4z" fill="url(#sg)" opacity=".8"/>
<circle cx="135.9" cy="8.8" r="7.4" fill="none" stroke="#5a84dc" stroke-width="1" opacity=".75"/>
<circle cx="135.9" cy="8.8" r="5.2" fill="none" stroke="#6a90e0" stroke-width="1" opacity=".7"/>
<circle cx="135.9" cy="8.8" r="3.1" fill="none" stroke="#7a9ce4" stroke-width=".9" opacity=".6"/>
<circle cx="135.7" cy="8.6" r="1.9" fill="#2454d4"/>
<path d="M136.5,9v7.7" stroke="#1fa01f" stroke-width="1.4"/>
<defs><linearGradient id="yh" x1="0" y1="0" x2="1" y2="1"><stop offset="0" stop-color="#fbe060"/><stop offset="1" stop-color="#f0b818"/></linearGradient></defs>
<path d="M155.4,8.4l6.8,8.2l2,.2l6.8,-9z" fill="url(#yh)" stroke="#d4a414" stroke-width=".7"/>
<ellipse cx="163.1" cy="6" rx="7.6" ry="2.5" fill="#58a8dc" stroke="#1c84b4" stroke-width=".8"/>
<path d="M159.2,5.6c0,-6 7.8,-6 7.8,0z" fill="#74bcec" stroke="#1c84b4" stroke-width=".8"/>
<path d="M159.6,5.8h7" stroke="#74bcec" stroke-width="1"/>
<circle cx="167.4" cy="12.7" r="4.1" fill="#e42404" stroke="#c01a04" stroke-width=".6"/>
<rect x="166" y="11.3" width="2.8" height="2.7" fill="#fff"/>
<text class="cjk" x="176.6" y="12.4" font-size="11.65" text-anchor="start">自动交易</text>
<rect x="231" y="0" width="1" height="19" fill="#a0a0a0" shape-rendering="crispEdges"/><rect x="232" y="0" width="1" height="19" fill="#fafafa" shape-rendering="crispEdges"/>
<g shape-rendering="crispEdges"><rect x="235" y="1" width="3" height="1" fill="#a8a8a8"/><rect x="235" y="3" width="3" height="1" fill="#a8a8a8"/><rect x="235" y="5" width="3" height="1" fill="#a8a8a8"/><rect x="235" y="7" width="3" height="1" fill="#a8a8a8"/><rect x="235" y="9" width="3" height="1" fill="#a8a8a8"/><rect x="235" y="11" width="3" height="1" fill="#a8a8a8"/><rect x="235" y="13" width="3" height="1" fill="#a8a8a8"/><rect x="235" y="15" width="3" height="1" fill="#a8a8a8"/><rect x="235" y="17" width="3" height="1" fill="#a8a8a8"/></g>
<path d="M249.4,16.8V4.2M247.0,14.6H259.4" stroke="#505050" stroke-width="1.2" fill="none"/><polygon points="247.6,5.6 251.20000000000002,5.6 249.4,2.8" fill="#505050"/><polygon points="258.8,12.8 258.8,16.4 261.6,14.6" fill="#505050"/>
<path d="M255.6,4.6v8M255.6,5.4h2.6M252.9,11.6h2.7" stroke="#158a15" stroke-width="1.3" fill="none"/>
<rect x="269" y="0" width="1" height="19" fill="#a0a0a0" shape-rendering="crispEdges"/><rect x="270" y="0" width="1" height="19" fill="#fafafa" shape-rendering="crispEdges"/>
<path d="M277.5,16.8V4.2M275.1,14.6H287.5" stroke="#505050" stroke-width="1.2" fill="none"/><polygon points="275.7,5.6 279.3,5.6 277.5,2.8" fill="#505050"/><polygon points="286.9,12.8 286.9,16.4 289.7,14.6" fill="#505050"/>
<path d="M283.5,1.2v11.8" stroke="#0a8a0a" stroke-width="1.2"/><rect x="281.4" y="3.7" width="4.2" height="7" fill="#2fd82f" stroke="#0a8a0a" stroke-width=".9"/>
<path d="M305.5,16.8V4.2M303.1,14.6H315.5" stroke="#505050" stroke-width="1.2" fill="none"/><polygon points="303.7,5.6 307.3,5.6 305.5,2.8" fill="#505050"/><polygon points="314.9,12.8 314.9,16.4 317.7,14.6" fill="#505050"/>
<path d="M304.2,11.6c2.4-1.2 3.6-5 6.2-5.2c2.2,0 3.4,3.4 5.4,3.8" stroke="#2a9a2a" stroke-width="1.2" fill="none"/>
<rect x="326" y="0" width="1" height="19" fill="#a0a0a0" shape-rendering="crispEdges"/><rect x="327" y="0" width="1" height="19" fill="#fafafa" shape-rendering="crispEdges"/>
<path d="M344.6,11.2l5.4,4.6" stroke="#a07810" stroke-width="3.4" stroke-linecap="round"/><path d="M344.8,11.3l5.1,4.4" stroke="#f0c830" stroke-width="2" stroke-linecap="round"/>
<circle cx="341" cy="6.8" r="5.3" fill="#dbeefb" stroke="#3a80d0" stroke-width="1.2"/>
<path d="M338,6.8h6" stroke="#4a8ab4" stroke-width="1.7"/>
<path d="M341,3.8v6" stroke="#4a8ab4" stroke-width="1.7"/>
<path d="M372.5,11.2l5.4,4.6" stroke="#a07810" stroke-width="3.4" stroke-linecap="round"/><path d="M372.7,11.3l5.1,4.4" stroke="#f0c830" stroke-width="2" stroke-linecap="round"/>
<circle cx="368.9" cy="6.8" r="5.3" fill="#dbeefb" stroke="#3a80d0" stroke-width="1.2"/>
<path d="M365.9,6.8h6" stroke="#4a8ab4" stroke-width="1.7"/>
<rect x="391" y="1" width="7.8" height="7.8" rx=".7" fill="#48a820"/><rect x="391" y="1" width="7.8" height="2.6" rx=".7" fill="#2c8c10"/>
<rect x="391.9" y="1.8" width=".9" height=".9" fill="#fff" opacity=".75"/>
<path d="M392.2,8v-3.9h5.5v3.9h-1.2v-1.1h-3.1v1.1z" fill="#f2f7ff"/><rect x="393.3" y="5" width="3.3" height=".9" fill="#48a820" opacity=".45"/>
<rect x="399.2" y="1" width="7.8" height="7.8" rx=".7" fill="#3866e2"/><rect x="399.2" y="1" width="7.8" height="2.6" rx=".7" fill="#1c44c4"/>
<rect x="400.09999999999997" y="1.8" width=".9" height=".9" fill="#fff" opacity=".75"/>
<path d="M400.4,8v-3.9h5.5v3.9h-1.2v-1.1h-3.1v1.1z" fill="#f2f7ff"/><rect x="401.5" y="5" width="3.3" height=".9" fill="#3866e2" opacity=".45"/>
<rect x="391" y="9.1" width="7.8" height="7.8" rx=".7" fill="#3866e2"/><rect x="391" y="9.1" width="7.8" height="2.6" rx=".7" fill="#1c44c4"/>
<rect x="391.9" y="9.9" width=".9" height=".9" fill="#fff" opacity=".75"/>
<path d="M392.2,16.1v-3.9h5.5v3.9h-1.2v-1.1h-3.1v1.1z" fill="#f2f7ff"/><rect x="393.3" y="13.1" width="3.3" height=".9" fill="#3866e2" opacity=".45"/>
<rect x="399.2" y="9.1" width="7.8" height="7.8" rx=".7" fill="#48a820"/><rect x="399.2" y="9.1" width="7.8" height="2.6" rx=".7" fill="#2c8c10"/>
<rect x="400.09999999999997" y="9.9" width=".9" height=".9" fill="#fff" opacity=".75"/>
<path d="M400.4,16.1v-3.9h5.5v3.9h-1.2v-1.1h-3.1v1.1z" fill="#f2f7ff"/><rect x="401.5" y="13.1" width="3.3" height=".9" fill="#48a820" opacity=".45"/>
<rect x="416" y="0" width="1" height="19" fill="#a0a0a0" shape-rendering="crispEdges"/><rect x="417" y="0" width="1" height="19" fill="#fafafa" shape-rendering="crispEdges"/>
<rect x="421" y="0" width="1" height="19" fill="#a0a0a0" shape-rendering="crispEdges"/><rect x="422" y="0" width="1" height="19" fill="#fafafa" shape-rendering="crispEdges"/>
<rect x="449" y="0" width="1" height="19" fill="#a0a0a0" shape-rendering="crispEdges"/><rect x="450" y="0" width="1" height="19" fill="#fafafa" shape-rendering="crispEdges"/>
<path d="M429.4,16.8V4.2M427.0,14.6H439.4" stroke="#505050" stroke-width="1.2" fill="none"/><polygon points="427.59999999999997,5.6 431.2,5.6 429.4,2.8" fill="#505050"/><polygon points="438.79999999999995,12.8 438.79999999999995,16.4 441.59999999999997,14.6" fill="#505050"/>
<polygon points="434.2,5 434.2,11.9 438.3,8.4" fill="#7fe87f" stroke="#18a018" stroke-width="1"/>
<path d="M457.5,16.8V4.2M455.1,14.6H467.5" stroke="#505050" stroke-width="1.2" fill="none"/><polygon points="455.7,5.6 459.3,5.6 457.5,2.8" fill="#505050"/><polygon points="466.9,12.8 466.9,16.4 469.7,14.6" fill="#505050"/>
<path d="M463.5,3v10" stroke="#1a6a9a" stroke-width="1.3"/><path d="M469.4,8.5h-4.6" stroke="#d84000" stroke-width="1.2"/><polygon points="464.4,8.5 467.4,6 466.8,8.5 467.4,11" fill="#e85000"/>
<rect x="478" y="0" width="1" height="19" fill="#a0a0a0" shape-rendering="crispEdges"/><rect x="479" y="0" width="1" height="19" fill="#fafafa" shape-rendering="crispEdges"/>
<path d="M489.6,1.6h6.6l3.4,3.4v8.2a1,1 0 0 1 -1,1h-9a1,1 0 0 1 -1,-1v-10.6a1,1 0 0 1 1,-1z" fill="#fdfdfd" stroke="#6a6a6a" stroke-width="1.1"/>
<path d="M496.2,1.6v3.4h3.4" fill="#f4f4f4" stroke="#6a6a6a" stroke-width=".9"/>
<path d="M494,3.8c-1.7,0-1.9,.8-1.9,2v1.2c0,.8-.4,1.3-1.1,1.3c.7,0 1.1,.5 1.1,1.3v1.4c0,1.2 .2,2 1.9,2" stroke="#3c3424" stroke-width="1.1" fill="none"/>
<path d="M496.5,7.9h3.1v3.8h3.9v3h-3.9v3.9h-3.1v-3.9h-4v-3h4z" fill="url(#gp)" stroke="#0a7a0a" stroke-width=".8"/>
<polygon points="509.6,8.2 515.6,8.2 512.6,11.4" fill="#000"/>
<defs><linearGradient id="ck" x1="0" y1="0" x2="1" y2="1"><stop offset="0" stop-color="#3a8ae8"/><stop offset="1" stop-color="#0c4cb0"/></linearGradient></defs>
<circle cx="534" cy="8.9" r="6.8" fill="#fcfcfc" stroke="url(#ck)" stroke-width="2.2"/>
<path d="M533.9,5.6v3.8h3" stroke="#2a2a2a" stroke-width="1.2" fill="none"/>
<path d="M534,3.4v.9M534,13.5v.9M528.5,8.9h.9M538.6,8.9h.9M530.2,5.1l.6,.6M537.8,5.1l-.6,.6M530.2,12.7l.6,-.6M537.8,12.7l-.6,-.6" stroke="#909090" stroke-width=".7"/>
<polygon points="548.5,8.2 554.5,8.2 551.5,11.4" fill="#000"/>
<rect x="565.6" y="2.4" width="15" height="13.2" fill="#fff" stroke="#3a6ac0" stroke-width="1"/>
<rect x="565.6" y="2.4" width="15" height="2.4" fill="#5a8ad8"/>
<path d="M566,10.4h14.4" stroke="#3a6ac0" stroke-width="1"/>
<path d="M567.4,8.4h1.6l1.6-1.4h1.4l1.2-1h1.4l1,1h1.4l1-.8h1" stroke="#a82010" stroke-width="1.1" fill="none"/>
<path d="M567.4,13.4h1.6l1.2-.8h1.4l1,.8h1.2l1.8-2l1.8,2h1" stroke="#1a9a1a" stroke-width="1.1" fill="none"/>
<polygon points="587.3,8.2 593.3,8.2 590.3,11.4" fill="#000"/>
<rect x="599" y="0" width="1" height="21" fill="#a0a0a0" shape-rendering="crispEdges"/><rect x="600" y="0" width="1" height="21" fill="#fafafa" shape-rendering="crispEdges"/>
<g shape-rendering="crispEdges"><rect x="603" y="1" width="3" height="1" fill="#a8a8a8"/><rect x="603" y="3" width="3" height="1" fill="#a8a8a8"/><rect x="603" y="5" width="3" height="1" fill="#a8a8a8"/><rect x="603" y="7" width="3" height="1" fill="#a8a8a8"/><rect x="603" y="9" width="3" height="1" fill="#a8a8a8"/><rect x="603" y="11" width="3" height="1" fill="#a8a8a8"/><rect x="603" y="13" width="3" height="1" fill="#a8a8a8"/><rect x="603" y="15" width="3" height="1" fill="#a8a8a8"/><rect x="603" y="17" width="3" height="1" fill="#a8a8a8"/></g>
<rect x="609" y="0" width="1" height="19" fill="#a0a0a0" shape-rendering="crispEdges"/><rect x="610" y="0" width="1" height="19" fill="#fafafa" shape-rendering="crispEdges"/>
<polygon points="617.1,2 617.1,13 619.5,11 622.4,15.9 624,15 621.3,10.1 625,9.5" fill="#484848"/>
<path d="M642,9.4h6.6M650.6,9.4h6.6M649.6,2.2v6.2M649.6,10.4v6.4" stroke="#484848" stroke-width="1.3"/><rect x="649.3" y="9.1" width=".7" height=".7" fill="#707070"/>
<rect x="666" y="0" width="1" height="19" fill="#a0a0a0" shape-rendering="crispEdges"/><rect x="667" y="0" width="1" height="19" fill="#fafafa" shape-rendering="crispEdges"/>
<path d="M683.5,3.2v12.6M706,9.4h11.8" stroke="#484848" stroke-width="1.3"/>
<path d="M733.8,15.8L746.1,3.6" stroke="#585858" stroke-width="1.05"/>
<path d="M759.7,10.7L767.9,3.1M764.8,15.6L774.3,7.2" stroke="#585858" stroke-width="1" stroke-dasharray="1,.6"/>
<path d="M762.7,8.3l-.4,7.3M765.6,7.2l-.5,5.3M768.6,5.3l-.3,6.2M771.5,1.2l.5,6.8M760.8,14.5h1.6M762.5,10h1.2M763.8,12h1.4M765.5,8.6h1.4M766.9,10.4h1.5M768.5,6.6h1.5M770.3,6.8h1.6M771.7,3.3h1.4" stroke="#404040" stroke-width="1.25" fill="none"/>
<text x="770.9" y="18" font-size="6.9" font-weight="bold" fill="#3c3c3c">E</text>
<g shape-rendering="crispEdges" fill="#4c4c4c">
<rect x="789" y="2" width="1" height="1"/>
<rect x="791" y="2" width="1" height="1"/>
<rect x="793" y="2" width="1" height="1"/>
<rect x="795" y="2" width="1" height="1"/>
<rect x="797" y="2" width="1" height="1"/>
<rect x="799" y="2" width="1" height="1"/>
<rect x="801" y="2" width="1" height="1"/>
<rect x="789" y="5" width="1" height="1"/>
<rect x="791" y="5" width="1" height="1"/>
<rect x="793" y="5" width="1" height="1"/>
<rect x="795" y="5" width="1" height="1"/>
<rect x="797" y="5" width="1" height="1"/>
<rect x="799" y="5" width="1" height="1"/>
<rect x="801" y="5" width="1" height="1"/>
<rect x="789" y="9" width="1" height="1"/>
<rect x="791" y="9" width="1" height="1"/>
<rect x="793" y="9" width="1" height="1"/>
<rect x="795" y="9" width="1" height="1"/>
<rect x="797" y="9" width="1" height="1"/>
<rect x="799" y="9" width="1" height="1"/>
<rect x="801" y="9" width="1" height="1"/>
<rect x="789" y="13" width="1" height="1"/>
<rect x="791" y="13" width="1" height="1"/>
<rect x="793" y="13" width="1" height="1"/>
<rect x="795" y="13" width="1" height="1"/>
<rect x="797" y="13" width="1" height="1"/>
</g>
<text x="798.9" y="18" font-size="6.9" font-weight="bold" fill="#3c3c3c">F</text>
<text x="819.4" y="13.9" font-size="12.4" fill="#585858" stroke="#585858" stroke-width=".55" textLength="8.2" lengthAdjust="spacingAndGlyphs">A</text>
<rect x="846.4" y="3.4" width="11.2" height="12.2" fill="none" stroke="#505050" stroke-width="1" stroke-dasharray="1,1"/>
<path d="M847.8,6.8h8.4M852,6.8v7.2" stroke="#505050" stroke-width="1.7" fill="none"/>
<polygon points="872.6,6.6 876.3,2.9 880,6.6 878.6,7.6 874,7.6" fill="#484848"/>
<polygon points="879.8,12.2 887.2,12.2 883.5,15.9" fill="#484848"/><rect x="881.2" y="11.2" width="4.6" height="1.2" fill="#484848"/>
<path d="M875,10.8l2.2,1.8l4.6-5.4" stroke="#484848" stroke-width="1.3" fill="none"/>
<polygon points="893.4,8.2 899.4,8.2 896.4,11.4" fill="#000"/>
<rect x="905" y="0" width="1" height="21" fill="#a0a0a0" shape-rendering="crispEdges"/><rect x="906" y="0" width="1" height="21" fill="#fafafa" shape-rendering="crispEdges"/>
<g shape-rendering="crispEdges"><rect x="909" y="1" width="3" height="1" fill="#a8a8a8"/><rect x="909" y="3" width="3" height="1" fill="#a8a8a8"/><rect x="909" y="5" width="3" height="1" fill="#a8a8a8"/><rect x="909" y="7" width="3" height="1" fill="#a8a8a8"/><rect x="909" y="9" width="3" height="1" fill="#a8a8a8"/><rect x="909" y="11" width="3" height="1" fill="#a8a8a8"/><rect x="909" y="13" width="3" height="1" fill="#a8a8a8"/><rect x="909" y="15" width="3" height="1" fill="#a8a8a8"/><rect x="909" y="17" width="3" height="1" fill="#a8a8a8"/></g>
<text class="tb" transform="translate(927,12.8) scale(.9,1)" text-anchor="middle">M1</text>
<text class="tb" transform="translate(955,12.8) scale(.9,1)" text-anchor="middle">M5</text>
<text class="tb" transform="translate(983.2,12.8) scale(.9,1)" text-anchor="middle">M15</text>
<text class="tb" transform="translate(1011.2,12.8) scale(.9,1)" text-anchor="middle">M30</text>
<text class="tb" transform="translate(1039.4,12.8) scale(.9,1)" text-anchor="middle">H1</text>
<text class="tb" transform="translate(1066.7,12.8) scale(.9,1)" text-anchor="middle">H4</text>
<text class="tb" transform="translate(1095.4,12.8) scale(.9,1)" text-anchor="middle">D1</text>
<text class="tb" transform="translate(1124,12.8) scale(.9,1)" text-anchor="middle">W1</text>
<text class="tb" transform="translate(1151.1,12.8) scale(.9,1)" text-anchor="middle">MN</text>
<rect x="1055" y="0" width="1" height="19" fill="#a0a0a0" shape-rendering="crispEdges"/><rect x="1056" y="0" width="1" height="19" fill="#fafafa" shape-rendering="crispEdges"/>
<rect x="1166" y="0" width="1" height="19" fill="#a0a0a0" shape-rendering="crispEdges"/><rect x="1167" y="0" width="1" height="19" fill="#fafafa" shape-rendering="crispEdges"/>
<path d="M1633.4,9.4l-4.2,4.2" stroke="#1a50c8" stroke-width="2.6" stroke-linecap="round"/>
<circle cx="1636.6" cy="6.4" r="4" fill="#f6f6fa" stroke="#2464d8" stroke-width="1.3"/>
<path d="M1653,11a5.4,4.4 0 1 1 5.6,4.4l-1.8,1.8l-.3,-1.9a5.4,4.4 0 0 1 -3.5,-4.3z" fill="#e2e2ec" stroke="#b4b4b8" stroke-width=".9"/>
<defs><linearGradient id="rb" x1="0" y1="0" x2="0" y2="1"><stop offset="0" stop-color="#ea5634"/><stop offset="1" stop-color="#d9200c"/></linearGradient></defs>
<circle cx="1667.4" cy="6.4" r="8.1" fill="url(#rb)"/>
<text x="1666.6" y="10.9" font-size="12.2" font-weight="bold" fill="#fff" text-anchor="middle">1</text>
</g>
</svg></body></html>
